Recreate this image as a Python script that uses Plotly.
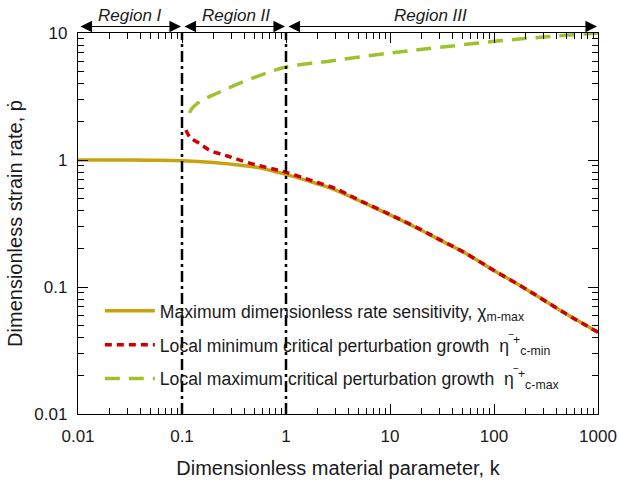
import numpy as np
import plotly.graph_objects as go

# ---- data ----
k_chi = [0.01, 0.02, 0.05, 0.1, 0.2, 0.3, 0.5, 0.7, 1, 2, 3, 5, 10, 20, 30, 50, 100, 200, 300, 500, 700, 1000]
chi_max = [1.0, 1.0, 0.995, 0.985, 0.955, 0.925, 0.88, 0.83, 0.77, 0.65, 0.58, 0.48, 0.37, 0.28, 0.235, 0.19, 0.135, 0.097, 0.079, 0.061, 0.052, 0.044]

k_min = [0.109, 0.119, 0.149, 0.186, 0.25, 0.31, 0.42, 0.56, 0.75, 1, 1.5, 2, 3, 5, 10, 20, 30, 50, 100, 200, 300, 500, 700, 1000]
eta_min = [1.72, 1.52, 1.34, 1.19, 1.10, 1.04, 0.96, 0.90, 0.85, 0.80, 0.72, 0.665, 0.595, 0.485, 0.372, 0.282, 0.236, 0.19, 0.135, 0.097, 0.079, 0.061, 0.052, 0.044]

k_maxc = [0.118, 0.125, 0.149, 0.22, 0.36, 0.65, 1, 1.9, 2.6, 10, 30, 100, 300, 1000]
eta_max = [2.35, 2.55, 2.89, 3.37, 4.03, 4.84, 5.40, 5.83, 6.0, 6.96, 7.7, 8.6, 9.3, 10.0]

region_bounds = [0.01, 0.1, 1, 1000]
region_names = ["Region I", "Region II", "Region III"]

y_ticks = [0.01, 0.1, 1, 10]

names = [
    "Maximum dimensionless rate sensitivity, χ<sub>m-max</sub>",
    "Local minimum critical perturbation growth  η<sup>‾+</sup><sub>c-min</sub>",
    "Local maximum critical perturbation growth  η<sup>‾+</sup><sub>c-max</sub>",
]

FONT = "Arial, Liberation Sans, sans-serif"
TXT = "#1a1a1a"

fig = go.Figure()

# region boundary lines (dash-dot), on the overlay axes that carry the minor ticks
for b in region_bounds[1:-1]:
    fig.add_trace(go.Scatter(x=[b, b], y=[y_ticks[0], y_ticks[-1]], mode="lines",
                             xaxis="x2", yaxis="y2",
                             line=dict(color="black", width=2.5, dash="11px,4px,3px,4px"),
                             showlegend=False, hoverinfo="skip"))

fig.add_trace(go.Scatter(x=k_chi, y=chi_max, mode="lines", name=names[0], legendgroup="a",
                         line=dict(color="#C9A20E", width=3.5, shape="spline")))
fig.add_trace(go.Scatter(x=k_min, y=eta_min, mode="lines", name=names[1], legendgroup="b",
                         line=dict(color="#CC0000", width=3.5, dash="7px,5px", shape="spline")))
fig.add_trace(go.Scatter(x=k_maxc, y=eta_max, mode="lines", name=names[2], legendgroup="c",
                         line=dict(color="#9DC22C", width=3.5, dash="15px,9px", shape="spline")))

# region arrows and labels (above plot area, paper y)
arrow_y = 1.017
label_y = 1.047
label_shift = [0, 2, -12]
for i, nm in enumerate(region_names):
    x0 = np.log10(region_bounds[i])
    x1 = np.log10(region_bounds[i + 1])
    fig.add_annotation(x=x1, y=arrow_y, ax=x0, ay=0, xref="x", yref="paper",
                       axref="x", ayref="pixel", text="", showarrow=True,
                       arrowside="end+start", arrowhead=2, arrowsize=2.1,
                       arrowwidth=1.1, arrowcolor="black", standoff=1, startstandoff=1)
    fig.add_annotation(x=(x0 + x1) / 2, y=label_y, xref="x", yref="paper",
                       text="<i>%s</i>" % nm, showarrow=False, yanchor="middle",
                       xshift=label_shift[i],
                       font=dict(family=FONT, size=17, color=TXT))

axis_common = dict(type="log", showgrid=False, zeroline=False, showline=True,
                   linecolor="black", linewidth=1.3, mirror="ticks", ticks="inside",
                   ticklen=10, tickwidth=1.4, tickcolor="black", automargin=False,
                   tickmode="linear", tick0=0, dtick=1, exponentformat="none",
                   tickfont=dict(family=FONT, size=17, color=TXT))

minor_common = dict(type="log", showgrid=False, zeroline=False, showline=False,
                    mirror="ticks", ticks="inside", ticklen=6, tickwidth=1.2,
                    tickcolor="black", dtick="D1", showticklabels=False, automargin=False)

fig.update_layout(
    width=619, height=482,
    margin=dict(l=78, r=21, t=33, b=68),
    plot_bgcolor="white", paper_bgcolor="white",
    font=dict(family=FONT, color=TXT),
    xaxis=dict(axis_common, range=[-2, 3], ticklabelstandoff=6,
               title=dict(text="Dimensionless material parameter, k",
                          font=dict(family=FONT, size=20, color=TXT), standoff=16)),
    yaxis=dict(axis_common, range=[-2, 1], ticklabelstandoff=6,
               title=dict(text="Dimensionless strain rate, p\u0307",
                          font=dict(family=FONT, size=20, color=TXT), standoff=6)),
    xaxis2=dict(minor_common, range=[-2, 3], overlaying="x", matches="x"),
    yaxis2=dict(minor_common, range=[-2, 1], overlaying="y", matches="y"),
    legend=dict(x=0.042, y=0.318, xanchor="left", yanchor="top", bgcolor="rgba(0,0,0,0)",
                font=dict(family=FONT, size=17.6, color=TXT), itemwidth=50,
                tracegroupgap=8),
    showlegend=True,
)

fig.write_html("out.html")
